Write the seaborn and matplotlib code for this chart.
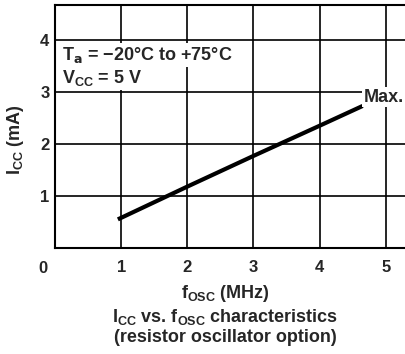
import matplotlib
matplotlib.use("Agg")
import matplotlib.pyplot as plt
import seaborn as sns
import pandas as pd

# Data
f_osc = [0.95, 2.0, 3.0, 4.0, 4.65]
i_cc = [0.55, 1.18, 1.77, 2.35, 2.73]
x_ticks = [1, 2, 3, 4, 5]
y_ticks = [1, 2, 3, 4]

sns.set_style("white")
plt.rcParams['font.family'] = ['Liberation Sans', 'DejaVu Sans']
plt.rcParams['mathtext.default'] = 'regular'
plt.rcParams['font.weight'] = 'bold'

df = pd.DataFrame({"f": f_osc, "i": i_cc})

fig = plt.figure(figsize=(4.05, 3.54), dpi=100)
ax = fig.add_axes([55/405, 106/354, 1 - 55/405, 243/354])

ax.set_xlim(0, 5.29)
ax.set_ylim(0, 4.67)
ax.set_xticks(x_ticks)
ax.set_yticks(y_ticks)
ax.grid(True, color='black', linewidth=1.2)
ax.set_axisbelow(True)
for s in ['left', 'bottom', 'top']:
    ax.spines[s].set_color('black')
    ax.spines[s].set_linewidth(1.5)
ax.spines['right'].set_visible(False)
ax.tick_params(length=0, labelsize=12)
ax.tick_params(axis='x', pad=9)
ax.tick_params(axis='y', pad=4)
for lab in ax.get_xticklabels() + ax.get_yticklabels():
    lab.set_fontweight('bold')

sns.lineplot(data=df, x="f", y="i", ax=ax, color='black', linewidth=3.0,
             solid_capstyle='butt')
ax.set_xlabel("")
ax.set_ylabel("")

ax.annotate("0", xy=(0, 0), xycoords='data', xytext=(-9, -15),
            textcoords='offset points', ha='center', va='center',
            fontsize=12, fontweight='bold')

fs = 13
ax.text(62/405, 1 - 55/354, r'$T_\mathbf{a}$ = −20°C to +75°C', transform=fig.transFigure,
        fontsize=fs, ha='left', va='center',
        bbox=dict(facecolor='white', edgecolor='none', pad=1.5))
ax.text(62/405, 1 - 78/354, r'$V_{CC}$ = 5 V', transform=fig.transFigure,
        fontsize=fs, ha='left', va='center',
        bbox=dict(facecolor='white', edgecolor='none', pad=1.5))
ax.text(404/405, 1 - 97/354, 'Max.', transform=fig.transFigure,
        fontsize=fs, ha='right', va='center',
        bbox=dict(facecolor='white', edgecolor='none', pad=1.0))

fig.text(15/405, 1 - 140/354, r'$I_{CC}$ (mA)', rotation=90, fontsize=fs,
         ha='center', va='center')
fig.text(225/405, 1 - 294/354, r'$f_{OSC}$ (MHz)', fontsize=fs,
         ha='center', va='center')
fig.text(225/405, 1 - 317/354, r'$I_{CC}$ vs. $f_{OSC}$ characteristics', fontsize=fs,
         ha='center', va='center')
fig.text(225/405, 1 - 338/354, '(resistor oscillator option)', fontsize=fs,
         ha='center', va='center')

fig.savefig("out.png", dpi=100)
